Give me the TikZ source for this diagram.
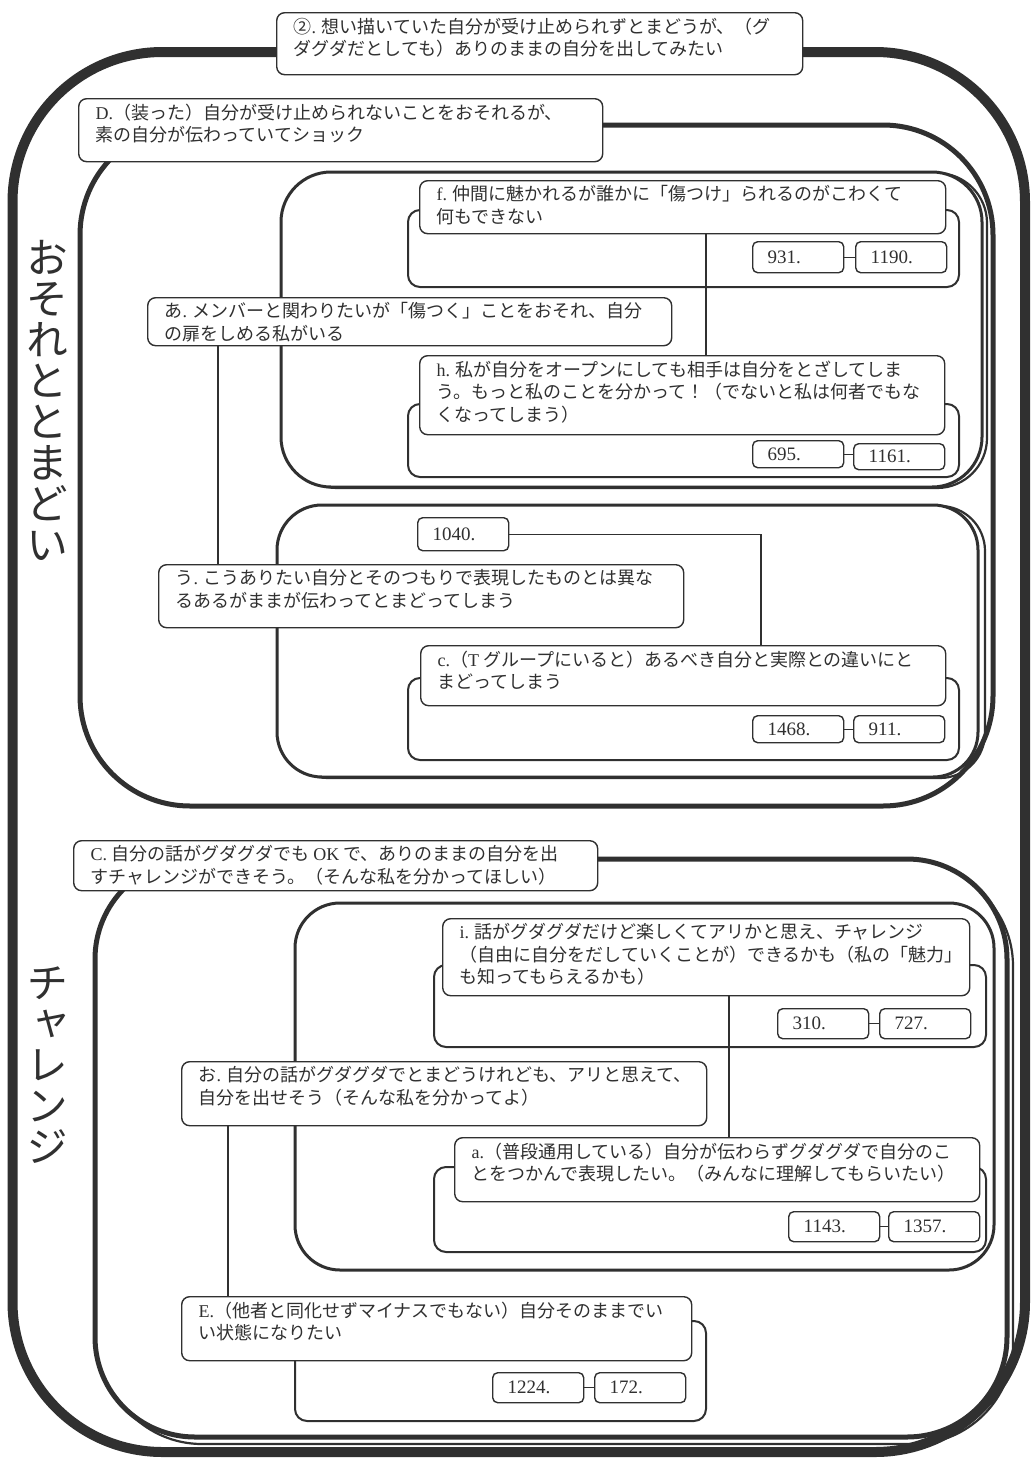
\documentclass[tikz,border=0pt]{standalone}
\usepackage{fontspec}
\usetikzlibrary{fit}
\setmainfont{Liberation Serif}
\newfontfamily\jp{Noto Sans CJK JP}
\newfontfamily\jpv[RawFeature=+vert]{Noto Sans CJK JP}
\definecolor{ink}{HTML}{303030}
\newcommand\ltn[1]{{\rmfamily #1}}
\newcommand\lbl[6]{\node[lab, anchor=north west] (#1) at (#2,#3) {\parbox[t][\dimexpr#5pt-10pt\relax][t]{\dimexpr#4pt-34pt\relax}{#6}};}
\newcommand\nbox[5]{\node[numbox, anchor=north west, minimum height=#5pt] (#1) at (#2,#3) {#4};}
\tikzset{
  grpbig/.style={draw=ink, line width=10pt, fill=white, rounded corners=150pt, inner sep=0pt},
  grpmid/.style={draw=ink, line width=5pt, fill=white, rounded corners=#1, inner sep=0pt},
  grpsml/.style={draw=ink, line width=3pt, fill=white, rounded corners=#1, inner sep=0pt},
  shade/.style={draw=ink, line width=2.2pt, rounded corners=#1, inner sep=0pt},
  cont/.style={draw=ink, line width=2pt, fill=white, rounded corners=12pt, inner sep=0pt},
  lab/.style={draw=ink, line width=1.4pt, fill=white, rounded corners=8pt, inner xsep=17pt, inner ysep=5pt, text=ink, font=\jp\fontsize{18pt}{22.5pt}\selectfont},
  numbox/.style={draw=ink, line width=1.4pt, fill=white, rounded corners=5pt, text width=61pt, align=left, inner xsep=15pt, inner ysep=0pt, text=ink, font=\rmfamily\fontsize{19pt}{21pt}\selectfont},
  conn/.style={draw=ink, line width=1.2pt},
  title/.style={font=\jpv\fontsize{42pt}{41pt}\selectfont, align=center, text=ink, inner sep=0pt}
}
\begin{document}
\begin{tikzpicture}[x=1pt,y=-1pt]
\fill[white] (0,0) rectangle (1033,1459);
\useasboundingbox (0,0) rectangle (1033,1459);

% outer group
\node[grpbig, fit={(12.5,52) (1025,1452)}] (G2) {};
\lbl{L2}{276}{12}{526}{62}{②\ltn{.} 想い描いていた自分が受け止められずとまどうが、（グ\\ダグダだとしても）ありのままの自分を出してみたい}

% ===== D group =====
\node[grpmid=110pt, fit={(80,125) (993,806)}] (GD) {};
\lbl{LD}{78}{98}{524}{63}{\ltn{D.}（装った）自分が受け止められないことをおそれるが、\\素の自分が伝わっていてショック}

% あ group
\node[shade=50pt, fit={(287,173) (987,488)}] (SA) {};
\node[grpsml=50pt, fit={(281,172) (982,487)}] (GA) {};
\node[cont, fit={(408,210) (959,287)}] (Cf) {};
\node[cont, fit={(408,404) (959,477)}] (Ch) {};
\nbox{n931}{752}{241}{931.}{31}
\nbox{n1190}{855}{241}{1190.}{31}
\nbox{n695}{752}{440}{695.}{27}
\nbox{n1161}{853}{443}{1161.}{26}
\draw[conn] (n931.east) -- (n1190.west);
\draw[conn] (n695.east) -- (n695.east -| n1161.west);
\coordinate (sx1) at (706,0);
\coordinate (sx2) at (218,0);
\lbl{Lf}{419}{180}{526}{53}{\ltn{f.} 仲間に魅かれるが誰かに「傷つけ」られるのがこわくて\\何もできない}
\lbl{Lh}{419}{355}{525}{79}{\ltn{h.} 私が自分をオープンにしても相手は自分をとざしてしま\\う。もっと私のことを分かって！（でないと私は何者でもな\\くなってしまう）}
\draw[conn] (Lf.south -| sx1) -- (Lh.north -| sx1);

% う group
\node[shade=45pt, fit={(283,506) (985,778)}] (SU) {};
\node[grpsml=45pt, fit={(277,505) (978,777)}] (GU) {};
\node[cont, fit={(408,678) (959,760)}] (Cc) {};
\nbox{n1040}{417}{517}{1040.}{33}
\nbox{n1468}{752}{715}{1468.}{27}
\nbox{n911}{853}{715}{911.}{27}
\draw[conn] (n1468.east) -- (n911.west);
\coordinate (sx3) at (761,0);
\lbl{Lc}{420}{645}{525}{60}{\ltn{c.}（\ltn{T} グループにいると）あるべき自分と実際との違いにと\\まどってしまう}
\draw[conn] (n1040.east) -| (Lc.north -| sx3);

\lbl{La}{147}{297}{524}{48}{あ\ltn{.} メンバーと関わりたいが「傷つく」ことをおそれ、自分\\の扉をしめる私がいる}
\lbl{Lu}{158}{564}{525}{63}{う\ltn{.} こうありたい自分とそのつもりで表現したものとは異な\\るあるがままが伝わってとまどってしまう}
\draw[conn] (La.south -| sx2) -- (Lu.north -| sx2);

% ===== C group =====
\node[shade=100pt, fit={(102,866) (1013,1444)}] (SC) {};
\node[grpmid=100pt, fit={(95,859) (1007,1437)}] (GC) {};
\lbl{LC}{73}{840}{524}{50}{\ltn{C.} 自分の話がグダグダでも \ltn{OK} で、ありのままの自分を出\\すチャレンジができそう。（そんな私を分かってほしい）}

% お group
\node[grpsml=45pt, fit={(295,903) (994,1270)}] (GO) {};
\node[cont, fit={(434,965) (986,1047)}] (Ci) {};
\node[cont, fit={(434,1167) (986,1252)}] (Ca) {};
\nbox{n310}{777}{1008}{310.}{30}
\nbox{n727}{879}{1008}{727.}{30}
\nbox{n1143}{788}{1211}{1143.}{30}
\nbox{n1357}{888}{1211}{1357.}{30}
\draw[conn] (n310.east) -- (n727.west);
\draw[conn] (n1143.east) -- (n1357.west);
\coordinate (sx4) at (729,0);
\coordinate (sx5) at (228,0);
\lbl{Li}{442}{918}{527}{77}{\ltn{i.} 話がグダグダだけど楽しくてアリかと思え、チャレンジ\\（自由に自分をだしていくことが）できるかも（私の「魅力」\\も知ってもらえるかも）}
\lbl{Lq}{454}{1137}{525}{64}{\ltn{a.}（普段通用している）自分が伝わらずグダグダで自分のこ\\とをつかんで表現したい。（みんなに理解してもらいたい）}
\draw[conn] (Li.south -| sx4) -- (Lq.north -| sx4);

% E
\node[cont, fit={(295,1321) (706,1421)}] (CE) {};
\nbox{n1224}{492}{1372}{1224.}{30}
\nbox{n172}{594}{1372}{172.}{30}
\draw[conn] (n1224.east) -- (n172.west);

\lbl{Lo}{181}{1061}{525}{64}{お\ltn{.} 自分の話がグダグダでとまどうけれども、アリと思えて、\\自分を出せそう（そんな私を分かってよ）}
\lbl{LE}{181}{1296}{510}{64}{\ltn{E.}（他者と同化せずマイナスでもない）自分そのままでい\\い状態になりたい}
\draw[conn] (Lo.south -| sx5) -- (LE.north -| sx5);

% titles
\node[title] (T1) at (47,400) {お\\そ\\れ\\と\\と\\ま\\ど\\い};
\node[title] (T2) at (47,1065) {チ\\ャ\\レ\\ン\\ジ};
\end{tikzpicture}
\end{document}
